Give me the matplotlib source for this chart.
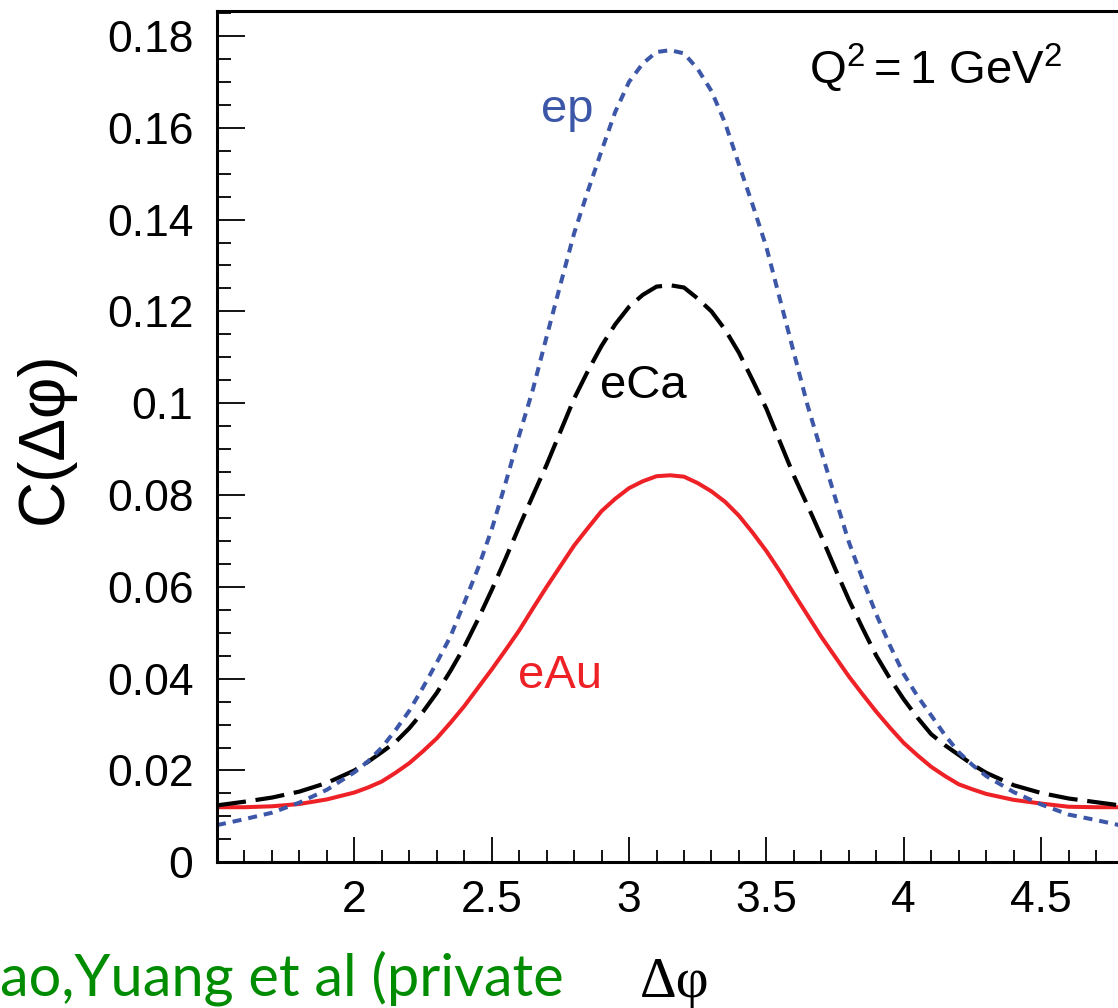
import matplotlib
matplotlib.use("Agg")
import matplotlib.pyplot as plt
from matplotlib.ticker import MultipleLocator, FixedLocator, FuncFormatter

plt.rcParams['font.family'] = ['Liberation Sans', 'DejaVu Sans']
plt.rcParams['mathtext.fontset'] = 'custom'
plt.rcParams['mathtext.rm'] = 'Liberation Sans'
plt.rcParams['mathtext.it'] = 'Liberation Sans:italic'
plt.rcParams['lines.scale_dashes'] = False

# ---- data ----
dphi = [1.5, 1.6, 1.7, 1.8, 1.9,
        2.0, 2.05, 2.1, 2.15, 2.2, 2.25, 2.3, 2.35, 2.4, 2.45,
        2.5, 2.55, 2.6, 2.65, 2.7, 2.75, 2.8, 2.85, 2.9, 2.95,
        3.0, 3.05, 3.1, 3.15, 3.2, 3.25, 3.3, 3.35, 3.4, 3.45,
        3.5, 3.55, 3.6, 3.65, 3.7, 3.75, 3.8, 3.85, 3.9, 3.95,
        4.0, 4.05, 4.1, 4.15, 4.2, 4.25, 4.3,
        4.4, 4.5, 4.6, 4.7, 4.8]
c_ep = [0.0081, 0.0094, 0.0108, 0.0130, 0.0158,
        0.0196, 0.0220, 0.0250, 0.0288, 0.0330, 0.0381, 0.0435, 0.0492, 0.0565, 0.0640,
        0.0725, 0.0825, 0.0930, 0.1030, 0.1145, 0.1258, 0.1370, 0.1462, 0.1550, 0.1635,
        0.1700, 0.1740, 0.1765, 0.1769, 0.1762, 0.1728, 0.1680, 0.1610, 0.1520, 0.1432,
        0.1340, 0.1225, 0.1110, 0.0995, 0.0895, 0.0795, 0.0698, 0.0617, 0.0540, 0.0472,
        0.0410, 0.0362, 0.0320, 0.0277, 0.0240, 0.0212, 0.0188,
        0.0153, 0.0126, 0.0104, 0.0092, 0.0079]
c_eca = [0.0124, 0.0132, 0.0141, 0.0154, 0.0173,
         0.0200, 0.0219, 0.0240, 0.0262, 0.0292, 0.0328, 0.0369, 0.0417, 0.0469, 0.0529,
         0.0593, 0.0661, 0.0731, 0.0799, 0.0866, 0.0938, 0.1010, 0.1070, 0.1125, 0.1172,
         0.1210, 0.1236, 0.1254, 0.1257, 0.1252, 0.1228, 0.1200, 0.1160, 0.1110, 0.1050,
         0.0988, 0.0915, 0.0842, 0.0777, 0.0710, 0.0640, 0.0572, 0.0510, 0.0450, 0.0400,
         0.0355, 0.0315, 0.0279, 0.0255, 0.0234, 0.0213, 0.0195,
         0.0168, 0.0151, 0.0139, 0.0131, 0.0123]
c_eau = [0.0120, 0.0120, 0.0122, 0.0127, 0.0137,
         0.0152, 0.0163, 0.0176, 0.0195, 0.0216, 0.0242, 0.0270, 0.0304, 0.0340, 0.0380,
         0.0420, 0.0462, 0.0505, 0.0553, 0.0600, 0.0645, 0.0690, 0.0728, 0.0765, 0.0792,
         0.0815, 0.0830, 0.0841, 0.0843, 0.0840, 0.0826, 0.0808, 0.0785, 0.0755, 0.0718,
         0.0678, 0.0633, 0.0585, 0.0538, 0.0491, 0.0448, 0.0405, 0.0366, 0.0328, 0.0293,
         0.0260, 0.0233, 0.0208, 0.0188, 0.0170, 0.0159, 0.0149,
         0.0136, 0.0128, 0.0121, 0.0120, 0.0120]
x_major = [2, 2.5, 3, 3.5, 4, 4.5]
y_major = [0, 0.02, 0.04, 0.06, 0.08, 0.1, 0.12, 0.14, 0.16, 0.18]

W, H = 1118, 1008
fig = plt.figure(figsize=(W / 100, H / 100), dpi=100)
ax = fig.add_axes([217 / W, (H - 862.3) / H, 1 - 217 / W, (862.3 - 10.7) / H])

blue = '#3d57a8'
red = '#ee2127'
ax.plot(dphi, c_eau, color=red, lw=2.9, solid_capstyle='butt')
ax.plot(dphi, c_eca, color='black', lw=3.0, dashes=(21, 7))
ax.plot(dphi, c_ep, color=blue, lw=2.9, dashes=(6.5, 5))

ax.set_xlim(1.5, 4.78)
ax.set_ylim(0, 0.1855)

ax.xaxis.set_major_locator(FixedLocator(x_major))
ax.xaxis.set_minor_locator(MultipleLocator(0.1))
ax.yaxis.set_major_locator(FixedLocator(y_major))
ax.yaxis.set_minor_locator(MultipleLocator(0.005))
fmt = FuncFormatter(lambda v, p: '%g' % v)
ax.xaxis.set_major_formatter(fmt)
ax.yaxis.set_major_formatter(fmt)

ax.tick_params(axis='both', which='both', direction='in', colors='black',
               top=False, right=False, width=1.3)
ax.tick_params(axis='y', which='major', length=20, pad=17, labelsize=32)
ax.tick_params(axis='y', which='minor', length=10)
ax.tick_params(axis='x', which='major', length=18, pad=13, labelsize=32)
ax.tick_params(axis='x', which='minor', length=8.6)

for s in ['left', 'top', 'bottom']:
    ax.spines[s].set_linewidth(2.2)
ax.spines['right'].set_visible(False)

# curve labels
ax.text(2.774, 0.1612, 'ep', color=blue, fontsize=34, ha='center', va='baseline')
ax.text(3.053, 0.1011, 'eCa', color='black', fontsize=34, ha='center', va='baseline')
ax.text(2.747, 0.0380, 'eAu', color=red, fontsize=34, ha='center', va='baseline')
ax.text(3.655, 0.1697, r'$\mathregular{Q^{2}=1\ GeV^{2}}$', color='black',
        fontsize=34, ha='left', va='baseline')

# axis titles
fig.text(45 / W, 1 - 438 / H, 'C(Δφ)', rotation=90, fontsize=46,
         ha='center', va='center')
fig.text(675 / W, 1 - 997 / H, 'Δφ', family=['Liberation Serif', 'DejaVu Serif'],
         fontsize=41, ha='center', va='baseline')

# green credit text (cut at the left edge)
gt = fig.text(0, 1 - 995 / H, 'ao,Yuang et al (private',
              family=['Lato', 'DejaVu Sans'], color='#008c00', fontsize=32,
              ha='left', va='baseline')
fig.canvas.draw()
bb = gt.get_window_extent()
gt.set_fontsize(32 * 565 / bb.width)

fig.savefig('out.png', dpi=100)
